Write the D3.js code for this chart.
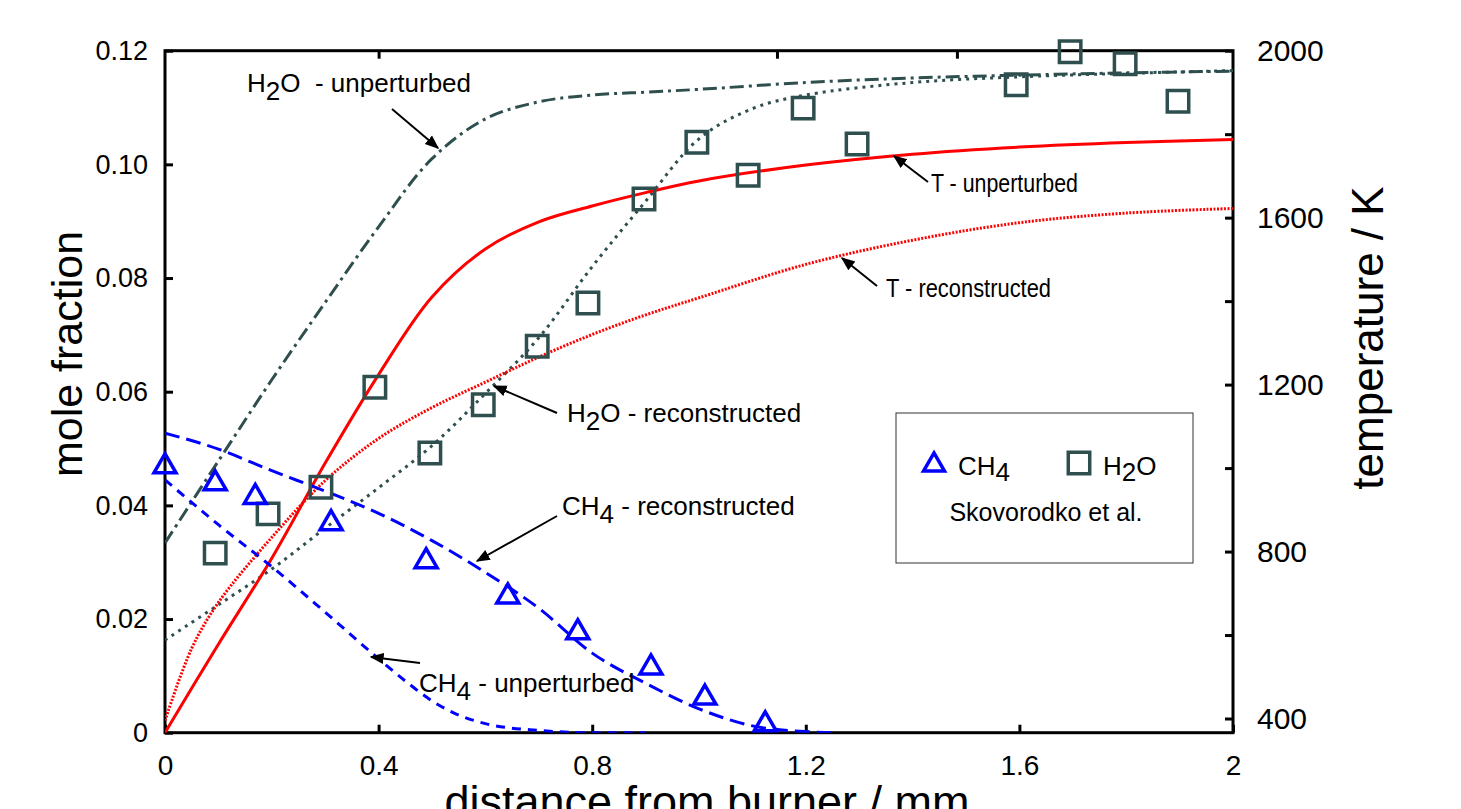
<!DOCTYPE html>
<html>
<head>
<meta charset="utf-8">
<script src="https://cdn.jsdelivr.net/npm/d3@7"></script>
<style>
body { margin: 0; background: #fff; }
svg text { font-family: "Liberation Sans", Arial, sans-serif; white-space: pre; }
</style>
</head>
<body>
<svg id="chart"></svg>
<script>
// measured data (distance in mm, mole fraction, temperature in K)
var ch4X = [0, 0.094, 0.169, 0.311, 0.489, 0.642, 0.773, 0.91, 1.011, 1.124];
var ch4Y = [0.0472, 0.0442, 0.0418, 0.0372, 0.0305, 0.0243, 0.0180, 0.0118, 0.0065, 0.0018];
var h2oX = [0.094, 0.193, 0.292, 0.393, 0.496, 0.596, 0.697, 0.792, 0.897, 0.996, 1.092, 1.195, 1.296, 1.594, 1.695, 1.798, 1.897];
var h2oY = [0.0316, 0.0385, 0.0432, 0.0608, 0.0492, 0.0577, 0.068, 0.0756, 0.0939, 0.1039, 0.0981, 0.1099, 0.1036, 0.114, 0.1198, 0.1177, 0.1111];

// model curves
var h2oUnpX = [0, 0.1, 0.2, 0.3, 0.4, 0.5, 0.6, 0.7, 0.8, 0.9, 1.0, 1.2, 1.4, 1.6, 1.8, 2.0];
var h2oUnpY = [0.0334, 0.0478, 0.0621, 0.0757, 0.089, 0.101, 0.108, 0.111, 0.1122, 0.1127, 0.1132, 0.1144, 0.1152, 0.1157, 0.1161, 0.1164];
var h2oRecX = [0, 0.1, 0.2, 0.3, 0.4, 0.5, 0.6, 0.7, 0.8, 0.9, 1.0, 1.1, 1.2, 1.4, 1.6, 1.8, 2.0];
var h2oRecY = [0.0163, 0.0225, 0.0288, 0.036, 0.0431, 0.0505, 0.0597, 0.0695, 0.082, 0.0935, 0.1045, 0.1098, 0.1122, 0.1144, 0.1154, 0.116, 0.1165];
var ch4UnpX = [0, 0.1, 0.2, 0.3, 0.4, 0.45, 0.5, 0.55, 0.6, 0.7, 0.8, 0.9];
var ch4UnpY = [0.0445, 0.0366, 0.0292, 0.0212, 0.013, 0.0091, 0.0056, 0.0031, 0.0016, 0.0004, 0, 0];
var ch4RecX = [0, 0.1, 0.2, 0.3, 0.4, 0.5, 0.6, 0.7, 0.8, 0.9, 1.0, 1.1, 1.2, 1.25];
var ch4RecY = [0.0527, 0.0499, 0.0461, 0.0425, 0.0386, 0.0338, 0.0282, 0.0219, 0.014, 0.0087, 0.0042, 0.0012, 0.0002, 0];
var tUnpX = [0, 0.1, 0.2, 0.3, 0.4, 0.5, 0.6, 0.7, 0.8, 0.9, 1.0, 1.2, 1.4, 1.6, 1.8, 2.0];
var tUnpY = [366, 578, 784, 1012, 1224, 1410, 1525, 1590, 1628, 1660, 1688, 1726, 1752, 1769, 1780, 1787];
var tRecX = [0, 0.05, 0.1, 0.2, 0.3, 0.4, 0.5, 0.6, 0.7, 0.8, 0.9, 1.0, 1.2, 1.4, 1.6, 1.8, 2.0];
var tRecY = [395, 568, 678, 834, 970, 1071, 1145, 1206, 1266, 1320, 1367, 1408, 1488, 1546, 1588, 1611, 1622];

// axis ticks
var xTicks = [0, 0.4, 0.8, 1.2, 1.6, 2];
var topTicks = [0.4, 1.146, 1.483];
var yTicks = [0, 0.02, 0.04, 0.06, 0.08, 0.1, 0.12];
var tTicks = [400, 600, 800, 1000, 1200, 1400, 1600, 1800, 2000];

var svgWidth = 1461, svgHeight = 809;
var plotLeft = 165, plotRight = 1233, plotTop = 50.7, plotBottom = 732.7;

var svg = d3.select("#chart").attr("width", svgWidth).attr("height", svgHeight);

var x = d3.scaleLinear().domain([0, 2]).range([plotLeft, plotRight]);
var y = d3.scaleLinear().domain([0, 0.12]).range([plotBottom, plotTop]);
var yT = d3.scaleLinear().domain([366, 2000]).range([plotBottom, plotTop]);

var defs = svg.append("defs");
defs.append("clipPath").attr("id", "plot")
	.append("rect").attr("x", plotLeft).attr("y", plotTop)
	.attr("width", plotRight - plotLeft).attr("height", plotBottom - plotTop);

// axes
function styleAxis(size) {
	return function(g) {
		g.select(".domain").remove();
		g.selectAll(".tick line").attr("stroke", "#000").attr("stroke-width", 3);
		g.selectAll("text").attr("font-size", size).attr("fill", "#000");
	};
}

svg.append("g").attr("transform", "translate(" + plotLeft + ",0)")
	.call(d3.axisLeft(y).tickValues(yTicks).tickSize(-8).tickPadding(17)
		.tickFormat(function(d) { return d === 0 ? "0" : d.toFixed(2); }))
	.call(styleAxis(27));

svg.append("g").attr("transform", "translate(0," + plotBottom + ")")
	.call(d3.axisBottom(x).tickValues(xTicks).tickSize(-8).tickPadding(22)
		.tickFormat(function(d) { return String(d); }))
	.call(styleAxis(28));

svg.append("g").attr("transform", "translate(0," + plotTop + ")")
	.call(d3.axisTop(x).tickValues(topTicks).tickSize(-8).tickFormat(""))
	.call(styleAxis(28));

svg.append("g").attr("transform", "translate(" + plotRight + ",0)")
	.call(d3.axisRight(yT).tickValues(tTicks).tickSize(-8).tickPadding(24)
		.tickFormat(function(d) { return d % 400 === 0 ? d : ""; }))
	.call(styleAxis(30));

svg.append("rect").attr("x", plotLeft).attr("y", plotTop)
	.attr("width", plotRight - plotLeft).attr("height", plotBottom - plotTop)
	.attr("fill", "none").attr("stroke", "#000").attr("stroke-width", 3);

// axis titles
svg.append("text").attr("transform", "translate(82,354) rotate(-90)")
	.attr("text-anchor", "middle").attr("font-size", 43).text("mole fraction");
svg.append("text").attr("transform", "translate(1383,338) rotate(-90)")
	.attr("text-anchor", "middle").attr("font-size", 44).text("temperature / K");
svg.append("text").attr("x", 707).attr("y", 817)
	.attr("text-anchor", "middle").attr("font-size", 45).text("distance from burner / mm");

// curves
var slate = "#2f4f4f";
function zip(xs, ys) { return xs.map(function(v, i) { return [v, ys[i]]; }); }
var lineY = d3.line().x(function(d) { return x(d[0]); }).y(function(d) { return y(d[1]); }).curve(d3.curveCatmullRom.alpha(0.5));
var lineT = d3.line().x(function(d) { return x(d[0]); }).y(function(d) { return yT(d[1]); }).curve(d3.curveCatmullRom.alpha(0.5));
var lineCh4 = d3.line().x(function(d) { return x(d[0]); }).y(function(d) { return y(d[1]); }).curve(d3.curveMonotoneX);

var curves = svg.append("g").attr("clip-path", "url(#plot)");
function addCurve(gen, data, color, dash) {
	curves.append("path").attr("d", gen(data))
		.attr("fill", "none").attr("stroke", color).attr("stroke-width", 3)
		.attr("stroke-dasharray", dash);
}
addCurve(lineY, zip(h2oUnpX, h2oUnpY), slate, "14,5,3,5");
addCurve(lineY, zip(h2oRecX, h2oRecY), slate, "3,5");
addCurve(lineT, zip(tUnpX, tUnpY), "#ff0000", null);
addCurve(lineT, zip(tRecX, tRecY), "#ff0000", "2,1.5");
addCurve(lineCh4, zip(ch4UnpX, ch4UnpY), "#0000ff", "9,7");
addCurve(lineCh4, zip(ch4RecX, ch4RecY), "#0000ff", "15,7");

// markers
var tri = d3.symbol(d3.symbolTriangle, 210);
var sq = d3.symbol(d3.symbolSquare, 460);
svg.append("g").selectAll("path").data(zip(h2oX, h2oY)).enter().append("path")
	.attr("d", sq).attr("transform", function(d) { return "translate(" + x(d[0]) + "," + y(d[1]) + ")"; })
	.attr("fill", "none").attr("stroke", slate).attr("stroke-width", 3.5);
svg.append("g").selectAll("path").data(zip(ch4X, ch4Y)).enter().append("path")
	.attr("d", tri).attr("transform", function(d) { return "translate(" + x(d[0]) + "," + (y(d[1]) + 2) + ")"; })
	.attr("fill", "none").attr("stroke", "#0000ff").attr("stroke-width", 3.5);

// annotations
defs.append("marker").attr("id", "arrow")
	.attr("viewBox", "0 0 10 10").attr("refX", 9).attr("refY", 5)
	.attr("markerWidth", 7).attr("markerHeight", 7).attr("orient", "auto")
	.append("path").attr("d", "M0,1 L10,5 L0,9 z").attr("fill", "#000");

function label(px, py, size, parts) {
	var t = svg.append("text").attr("x", px).attr("y", py).attr("font-size", size);
	parts.forEach(function(p) {
		var s = t.append("tspan").text(p[0]);
		if (p[1] === "sub") s.attr("dy", 8);
		if (p[1] === "up") s.attr("dy", -8);
	});
	return t;
}
function arrow(x1, y1, x2, y2) {
	svg.append("line").attr("x1", x1).attr("y1", y1).attr("x2", x2).attr("y2", y2)
		.attr("stroke", "#000").attr("stroke-width", 2).attr("marker-end", "url(#arrow)");
}

label(247, 92, 26, [["H"], ["2", "sub"], ["O  - unperturbed", "up"]]);
arrow(392, 109, 438, 148);
// the T labels are set in a narrower face in the original
label(931, 192, 25, [["T - unperturbed"]])
	.attr("textLength", 147).attr("lengthAdjust", "spacingAndGlyphs");
arrow(928, 182, 894, 156);
label(886, 297, 25, [["T - reconstructed"]])
	.attr("textLength", 165).attr("lengthAdjust", "spacingAndGlyphs");
arrow(877, 286, 842, 258);
label(567, 422, 26, [["H"], ["2", "sub"], ["O - reconstructed", "up"]]);
arrow(557, 413, 494, 386);
label(562, 515, 26, [["CH"], ["4", "sub"], [" - reconstructed", "up"]]);
arrow(557, 516, 477, 561);
label(419, 692, 26, [["CH"], ["4", "sub"], [" - unperturbed", "up"]]);
arrow(420, 663, 371, 657);

// legend box
svg.append("rect").attr("x", 896).attr("y", 413).attr("width", 297).attr("height", 150)
	.attr("fill", "#fff").attr("stroke", "#333").attr("stroke-width", 1);
svg.append("path").attr("d", d3.symbol(d3.symbolTriangle, 190))
	.attr("transform", "translate(934,465)")
	.attr("fill", "none").attr("stroke", "#0000ff").attr("stroke-width", 3.5);
svg.append("path").attr("d", sq)
	.attr("transform", "translate(1079,463)")
	.attr("fill", "none").attr("stroke", slate).attr("stroke-width", 3.5);
var l1 = svg.append("text").attr("x", 958).attr("y", 475).attr("font-size", 26);
l1.append("tspan").text("CH");
l1.append("tspan").attr("dy", 6).text("4");
var l2 = svg.append("text").attr("x", 1103).attr("y", 475).attr("font-size", 26);
l2.append("tspan").text("H");
l2.append("tspan").attr("dy", 6).text("2");
l2.append("tspan").attr("dy", -6).text("O");
svg.append("text").attr("x", 1046).attr("y", 521).attr("text-anchor", "middle")
	.attr("font-size", 25).text("Skovorodko et al.");
</script>
</body>
</html>
